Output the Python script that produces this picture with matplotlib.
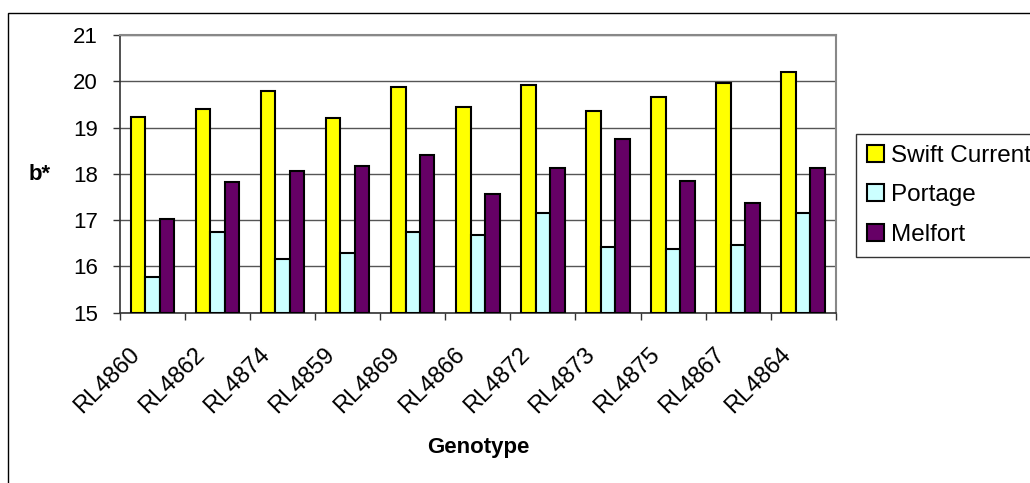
import numpy as np
import matplotlib.pyplot as plt
from matplotlib.patches import Rectangle
from matplotlib.transforms import ScaledTranslation

plt.rcParams['font.family'] = ['Liberation Sans', 'DejaVu Sans']

genotypes = ['RL4860', 'RL4862', 'RL4874', 'RL4859', 'RL4869', 'RL4866',
             'RL4872', 'RL4873', 'RL4875', 'RL4867', 'RL4864']
swift_current = [19.23, 19.41, 19.80, 19.20, 19.88, 19.44, 19.93, 19.36, 19.67, 19.97, 20.19]
portage = [15.78, 16.74, 16.17, 16.29, 16.74, 16.68, 17.16, 16.43, 16.38, 16.47, 17.16]
melfort = [17.02, 17.82, 18.06, 18.16, 18.41, 17.56, 18.12, 18.76, 17.85, 17.37, 18.12]

series = [('Swift Current', swift_current, '#FFFF00'),
          ('Portage', portage, '#CCFFFF'),
          ('Melfort', melfort, '#660066')]

fig = plt.figure(figsize=(10.3, 4.83), dpi=100)
ax = fig.add_axes([120/1030, 1-312.7/483, (835.7-120)/1030, (312.7-35)/483])

x = np.arange(len(genotypes))
w = 1/4.5
for i, (name, vals, col) in enumerate(series):
    ax.bar(x + (i-1)*w, np.array(vals) - 15, bottom=15, width=w, color=col,
           edgecolor='black', linewidth=1.5, label=name, zorder=3)

ax.set_xlim(-0.5, len(genotypes)-0.5)
ax.set_ylim(15, 21)
ax.set_yticks(range(15, 22))
ax.yaxis.grid(True, color='#555555', linewidth=1, zorder=0)

ax.set_xticks(x)
ax.set_xticklabels(genotypes, rotation=45, ha='right', va='top', rotation_mode='anchor')
ax.set_xticks(np.arange(-0.5, len(genotypes)), minor=True)
ax.tick_params(axis='x', which='major', length=0, pad=22, labelsize=17)
ax.tick_params(axis='x', which='minor', length=5, width=1, color='#333333')
ax.tick_params(axis='y', length=5, width=1, color='#333333', labelsize=16, pad=11)
shift = ScaledTranslation(-24/100, 0, fig.dpi_scale_trans)
for lbl in ax.get_xticklabels():
    lbl.set_transform(lbl.get_transform() + shift)

for s in ['top', 'right']:
    ax.spines[s].set_color('#888888')
    ax.spines[s].set_linewidth(1.5)
for s in ['left', 'bottom']:
    ax.spines[s].set_color('#333333')
    ax.spines[s].set_linewidth(1.2)

fig.text(40/1030, 1-175/483, 'b*', fontsize=16, fontweight='bold', ha='center', va='center')
fig.text(478/1030, 1-447/483, 'Genotype', fontsize=16, fontweight='bold', ha='center', va='center')

leg = fig.legend(loc='upper left', bbox_to_anchor=(856/1030, 1-134/483), fontsize=17.5,
                 frameon=True, fancybox=False, shadow=False, borderaxespad=0,
                 handlelength=0.7, handleheight=0.7, handletextpad=0.3,
                 labelspacing=0.72, borderpad=0.45)
leg.get_frame().set_edgecolor('black')
leg.get_frame().set_linewidth(1)

fig.patches.append(Rectangle((8/1030, -0.1), 1.2, 1-13/483+0.1, transform=fig.transFigure,
                             fill=False, edgecolor='black', linewidth=1))

fig.savefig('out.png', dpi=100)
